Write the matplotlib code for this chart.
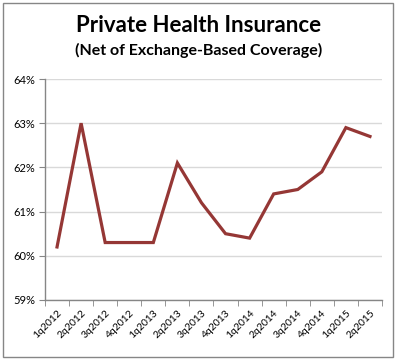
import matplotlib
matplotlib.use("Agg")
import matplotlib.pyplot as plt
from matplotlib.patches import Rectangle
import numpy as np

categories = ["1q2012", "2q2012", "3q2012", "4q2012", "1q2013", "2q2013", "3q2013",
              "4q2013", "1q2014", "2q2014", "3q2014", "4q2014", "1q2015", "2q2015"]
values = [60.2, 63.0, 60.3, 60.3, 60.3, 62.1, 61.2, 60.5, 60.4, 61.4, 61.5, 61.9, 62.9, 62.7]
yticks = [59, 60, 61, 62, 63, 64]
ytick_labels = ["59%", "60%", "61%", "62%", "63%", "64%"]
title = "Private Health Insurance"
subtitle = "(Net of Exchange-Based Coverage)"

W, H = 398, 360
fig = plt.figure(figsize=(W / 100, H / 100), dpi=100)
plt.rcParams['font.family'] = ['Lato', 'DejaVu Sans']

# axes placement in pixels
left, right, top, bottom = 45, 382, 79, 300
ax = fig.add_axes([left / W, 1 - bottom / H, (right - left) / W, (bottom - top) / H])

x = np.arange(len(categories))
ax.plot(x, values, color="#953735", lw=2.3, solid_joinstyle="miter")
ax.set_xlim(-0.5, len(categories) - 0.5)
ax.set_ylim(59, 64)
ax.set_yticks(yticks)
ax.set_yticklabels(ytick_labels, fontsize=8)
ax.set_xticks(x)
ax.set_xticklabels(categories, rotation=45, ha="right", rotation_mode="anchor", fontsize=7.5)
ax.tick_params(axis="x", length=0, pad=6)
ax.set_xticks(np.arange(-0.5, len(categories), 1), minor=True)
ax.tick_params(axis="x", which="minor", length=4, color="#868686", direction="out")
ax.tick_params(axis="y", length=4, color="#868686", direction="out", pad=3)
ax.grid(axis="y", color="#D9D9D9", lw=1)
ax.set_axisbelow(True)
for s in ["top", "right"]:
    ax.spines[s].set_visible(False)
for s in ["left", "bottom"]:
    ax.spines[s].set_color("#868686")
    ax.spines[s].set_linewidth(1)

fig.text(0.5, 1 - 25 / H, title, ha="center", va="center", fontsize=16, fontweight="bold")
fig.text(0.5, 1 - 50 / H, subtitle, ha="center", va="center", fontsize=11.5, fontweight="bold")

fig.patches.append(Rectangle((3 / W, 3 / H), 390 / W, 354 / H, transform=fig.transFigure,
                             fill=False, edgecolor="#868686", lw=1))

fig.savefig("out.png", dpi=100)
